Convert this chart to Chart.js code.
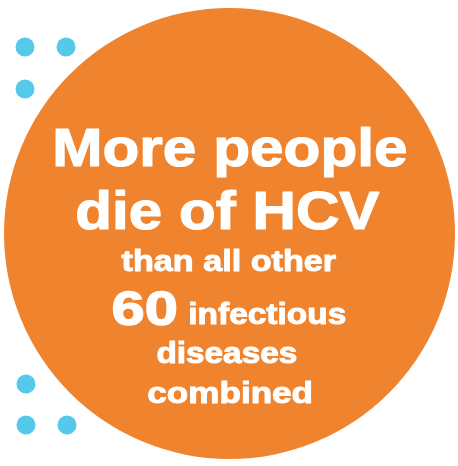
<!DOCTYPE html>
<html>
<head>
<meta charset="utf-8">
<script src="https://cdn.jsdelivr.net/npm/chart.js@4/dist/chart.umd.min.js"></script>
<style>
  html, body { margin: 0; padding: 0; background: #ffffff; }
  .chart-wrap { width: 458px; height: 466px; position: relative; }
</style>
</head>
<body>
<div class="chart-wrap">
  <canvas id="chart" aria-label="More people die of HCV than all other 60 infectious diseases combined"></canvas>
</div>
<script>
// big circle (centre + radius in px, bubble value)
const circleX = [229.5];
const circleY = [233.5];
const circleR = [225.5];

// decorative dots
const dotX = [25, 66, 25, 26, 26, 67];
const dotY = [47, 47, 89, 384, 425, 425];
const dotR = [9.5, 9.5, 9.5, 9.5, 9.5, 9.5];

// text
const headline = ["More people", "die of HCV"];
const statValue = "60";
const bodyLines = ["than all other", "infectious", "diseases", "combined"];

const ORANGE = "#f0832d";
const BLUE = "#56c9ea";

const toPoints = (xs, ys, rs) => xs.map((x, i) => ({ x: x, y: ys[i], r: rs[i] }));

const textPlugin = {
  id: "circleText",
  afterDatasetsDraw(chart) {
    const ctx = chart.ctx;
    const layout = [
      { text: headline[0], size: 54, x0: 55, x1: 407, base: 166, w: 1.2 },
      { text: headline[1], size: 54, x0: 77, x1: 380, base: 229, w: 1.2 },
      { text: bodyLines[0], size: 30, x0: 121, x1: 337, base: 271, w: 1 },
      { text: statValue, size: 49, x0: 112, x1: 177, base: 325, w: 1.4 },
      { text: bodyLines[1], size: 30, x0: 190, x1: 346, base: 324, w: 1 },
      { text: bodyLines[2], size: 30, x0: 157, x1: 297, base: 363, w: 1 },
      { text: bodyLines[3], size: 30, x0: 148, x1: 312, base: 403, w: 1 },
    ];
    ctx.save();
    ctx.fillStyle = "#ffffff";
    ctx.strokeStyle = "#ffffff";
    ctx.lineJoin = "round";
    ctx.textAlign = "left";
    ctx.textBaseline = "alphabetic";
    layout.forEach((l) => {
      ctx.font = `bold ${l.size}px "Liberation Sans", Arial, sans-serif`;
      const m = ctx.measureText(l.text);
      const inkW = m.actualBoundingBoxLeft + m.actualBoundingBoxRight;
      const sx = (l.x1 - l.x0 - l.w) / inkW;
      ctx.save();
      ctx.translate(l.x0 + l.w / 2, l.base);
      ctx.scale(sx, 1);
      ctx.lineWidth = l.w;
      ctx.fillText(l.text, m.actualBoundingBoxLeft, 0);
      ctx.strokeText(l.text, m.actualBoundingBoxLeft, 0);
      ctx.restore();
    });
    ctx.restore();
  },
};

new Chart(document.getElementById("chart"), {
  type: "bubble",
  data: {
    datasets: [
      {
        label: "circle",
        data: toPoints(circleX, circleY, circleR),
        backgroundColor: ORANGE,
        borderWidth: 0,
        hoverBorderWidth: 0,
        clip: false,
      },
      {
        label: "dots",
        data: toPoints(dotX, dotY, dotR),
        backgroundColor: BLUE,
        borderWidth: 0,
        hoverBorderWidth: 0,
        clip: false,
      },
    ],
  },
  options: {
    responsive: true,
    maintainAspectRatio: false,
    animation: false,
    events: [],
    layout: { padding: 0, autoPadding: false },
    plugins: {
      legend: { display: false },
      tooltip: { enabled: false },
    },
    scales: {
      x: { type: "linear", min: 0, max: 458, display: false },
      y: { type: "linear", min: 0, max: 466, reverse: true, display: false },
    },
  },
  plugins: [textPlugin],
});
</script>
</body>
</html>
